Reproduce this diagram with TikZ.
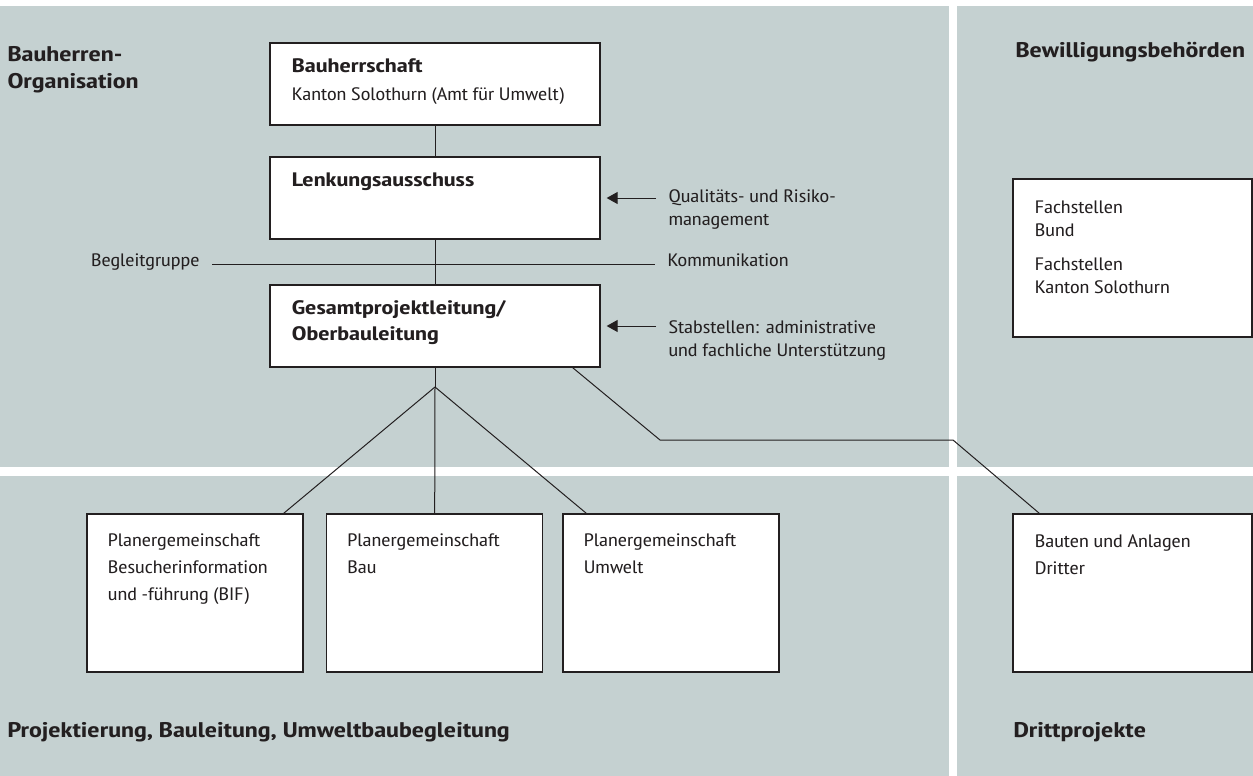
\documentclass[tikz,border=0pt]{standalone}
\usepackage{fontspec}
\setmainfont{PT Sans Narrow}[FakeStretch=1.24, BoldFeatures={FakeStretch=1.36}]
\usetikzlibrary{positioning,arrows.meta}

\definecolor{areagray}{RGB}{197,209,209}
\definecolor{ink}{RGB}{35,31,32}
\newcommand{\orgfont}{\fontsize{18}{23}\selectfont}
\newcommand{\titlefont}{\fontsize{19.5}{26}\selectfont\bfseries}
\newcommand{\areafont}{\fontsize{21.2}{27}\selectfont\bfseries}

\tikzset{area/.style={fill=areagray, draw=none}}
\tikzset{unit/.style={draw=ink, fill=white, line width=1.3pt, minimum width=330pt, minimum height=82pt, inner sep=0pt}}
\tikzset{team/.style={unit, minimum width=216pt, minimum height=158pt}}
\tikzset{entry/.style={align=left, inner sep=0pt, text=ink}}
\tikzset{heading/.style={entry, font=\areafont}}
\tikzset{title/.style={entry, font=\titlefont}}
\tikzset{remark/.style={entry, inner xsep=12pt}}
\tikzset{feed/.style={-{Triangle[length=11pt,width=12pt]}, shorten >=6pt}}

\begin{document}
\begin{tikzpicture}[x=1pt, y=-1pt, line width=1pt, color=ink, font=\orgfont]

	\useasboundingbox (0,0) rectangle (1253,776);

	% grey areas
	\fill[area] (0,6) rectangle (949,467);
	\fill[area] (957,6) rectangle (1253,467);
	\fill[area] (0,476) rectangle (949,776);
	\fill[area] (957,476) rectangle (1253,776);

	\node[heading, anchor=north west] (bauherren-org) at (7,46) {Bauherren-\\Organisation};
	\node[heading, anchor=north west] (bewilligung) at (1015,42) {Bewilligungsbehörden};
	\node[heading, anchor=north west] (projektierung) at (7,722) {Projektierung, Bauleitung, Umweltbaubegleitung};
	\node[heading, anchor=north west] (drittprojekte) at (1013,722) {Drittprojekte};

	\node[unit] (bauherr) at (435,84) {};
	\node[unit] (lenkung) at (435,198) {};
	\node[unit] (gesamt) at (435,326) {};
	\node[team] (bif) at (195,593) {};
	\node[team] (bau) at (434.5,593) {};
	\node[team] (umwelt) at (671,593) {};
	\node[team, minimum width=239pt] (fachstellen) at (1132.5,258) {};
	\node[team, minimum width=239pt] (dritte) at (1132.5,593) {};

	\node[entry, below right=16pt and 22pt of bauherr.north west] (bauherr-text) {{\titlefont Bauherrschaft}\\[5pt]Kanton Solothurn (Amt für Umwelt)};
	\node[title, below right=16pt and 22pt of lenkung.north west] (lenkung-text) {Lenkungsausschuss};
	\node[title, below right=16pt and 22pt of gesamt.north west] (gesamt-text) {Gesamtprojektleitung/\\Oberbauleitung};
	\node[entry, below right=22pt and 22pt of fachstellen.north west] (fachstellen-text) {Fachstellen\\Bund\\[11pt]Fachstellen\\Kanton Solothurn};
	\node[entry, below right=20pt and 21pt of bif.north west] (bif-text) {Planergemeinschaft\\[4pt]Besucherinformation\\[4pt]und -führung (BIF)};
	\node[entry, below right=20pt and 21pt of bau.north west] (bau-text) {Planergemeinschaft\\[4pt]Bau};
	\node[entry, below right=20pt and 21pt of umwelt.north west] (umwelt-text) {Planergemeinschaft\\[4pt]Umwelt};
	\node[entry, below right=21pt and 22pt of dritte.north west] (dritte-text) {Bauten und Anlagen\\[4pt]Dritter};

	\node[remark, anchor=north west] (quali) at (656,189) {Qualitäts- und Risiko-\\management};
	\node[remark, anchor=north west] (stab) at (656,320) {Stabstellen: administrative\\und fachliche Unterstützung};
	\node[remark, text height=0.75em, text depth=0.25em, anchor=west] (komm) at (655,264) {Kommunikation};
	\node[remark, text height=0.75em, text depth=0.25em, anchor=east] (begleit) at (212,264) {Begleitgruppe};

	\coordinate (split) at (435,387);
	\coordinate (bend-left) at (660,440);
	\coordinate (bend-right) at (953,440);

	\draw (bauherr) -- (lenkung);
	\draw (lenkung) -- (gesamt);
	\draw (begleit) -- (komm);
	\draw (gesamt) -- (split);
	\draw (split) -- ([xshift=-20pt]bif.north east);
	\draw (split) -- (bau);
	\draw (split) -- ([xshift=24pt]umwelt.north west);
	\draw ([xshift=-28pt]gesamt.south east) -- (bend-left) -- (bend-right) -- ([xshift=27pt]dritte.north west);

	\draw[feed] (quali.west |- lenkung.east) -- (lenkung.east);
	\draw[feed] (stab.west |- gesamt.east) -- (gesamt.east);
\end{tikzpicture}
\end{document}
